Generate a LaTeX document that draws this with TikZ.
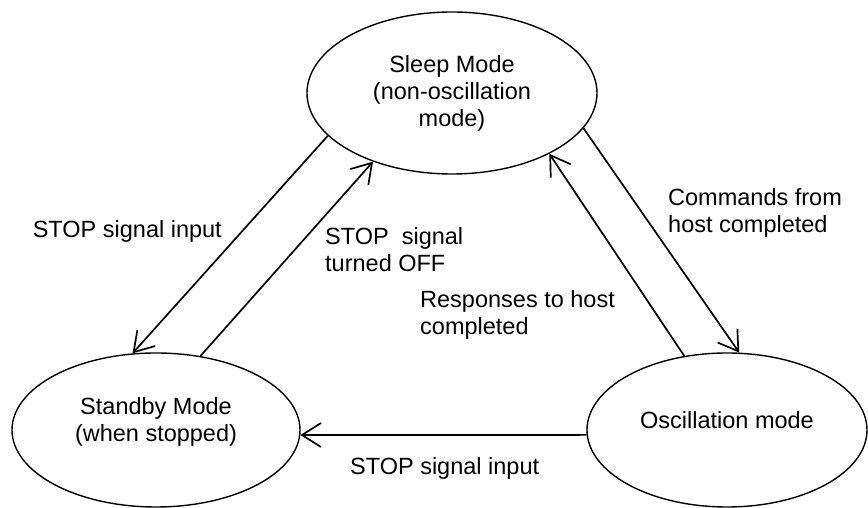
\documentclass[tikz,border=0pt]{standalone}
\usepackage{fontspec}
\setmainfont{Liberation Sans}
\usetikzlibrary{shapes.geometric,arrows.meta}

\begin{document}
\begin{tikzpicture}[
    x=1pt, y=1pt,
    mode/.style={draw, ellipse, line width=1.4pt, inner sep=0pt, align=center, font=\fontsize{23.5}{27}\selectfont},
    lbl/.style={inner sep=0pt, align=left, font=\fontsize{23.5}{27}\selectfont},
    arr/.style={line width=1.7pt, -{Straight Barb[length=19pt, width=24pt, line width=1.7pt]}}
]
\useasboundingbox (0,0) rectangle (868,508);

\node[mode, minimum width=290, minimum height=162] (sleep) at (452,415) {Sleep Mode\\(non-oscillation\\mode)};
\node[mode, minimum width=288, minimum height=154, text depth=21pt] (standby) at (156,78) {Standby Mode\\(when stopped)};
\node[mode, minimum width=280, minimum height=154, text depth=21pt] (osc) at (727,78) {Oscillation mode};

% transitions
\draw[arr] (sleep.199) -- (standby.107);
\draw[arr] (standby.59) -- (sleep.221);
\draw[arr] (sleep.345) -- (osc.81);
\draw[arr] (osc.120) -- (sleep.328);
\draw[arr] (osc.182) -- (standby.358);

\node[lbl, anchor=base east] (l1) at (222,270) {STOP signal input};
\node[lbl, anchor=base west] (l2) at (325,236) {STOP\ \ signal\\turned OFF};
\node[lbl, anchor=base west] (l3) at (668,275) {Commands from\\host completed};
\node[lbl, anchor=base west] (l4) at (420,173) {Responses to host\\completed};
\node[lbl, anchor=base west] (l5) at (350,33) {STOP signal input};
\end{tikzpicture}
\end{document}
